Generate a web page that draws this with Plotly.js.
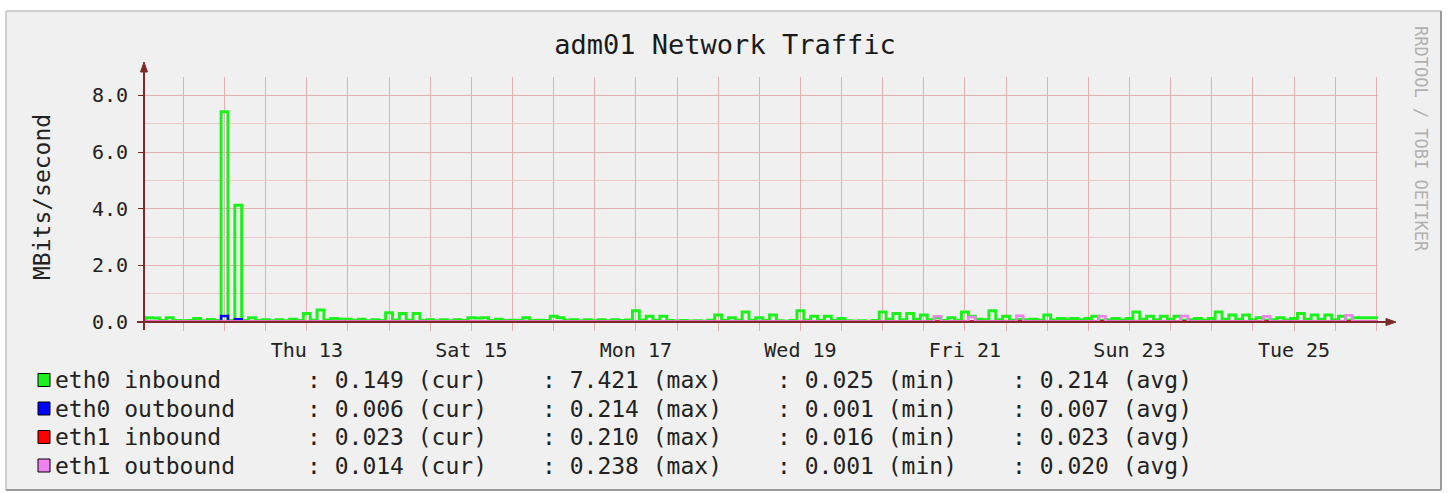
<!DOCTYPE html>
<html>
<head>
<meta charset="utf-8">
<script src="https://cdn.plot.ly/plotly-3.0.1.min.js"></script>
<style>
html,body{margin:0;padding:0;background:#ffffff;}
#chart{width:1450px;height:493px;}
</style>
</head>
<body>
<div id="chart"></div>
<script>
// ---------------- data ----------------
const chartTitle = 'adm01 Network Traffic';
const yAxisTitle = 'MBits/second';
const watermark = 'RRDTOOL / TOBI OETIKER';

const yTickVals = [0, 2, 4, 6, 8];
const yTickText = ['0.0', '2.0', '4.0', '6.0', '8.0'];
const xTickVals = ['2011-01-13 12:00', '2011-01-15 12:00', '2011-01-17 12:00', '2011-01-19 12:00',
                   '2011-01-21 12:00', '2011-01-23 12:00', '2011-01-25 12:00'];
const xTickText = ['Thu 13', 'Sat 15', 'Mon 17', 'Wed 19', 'Fri 21', 'Sun 23', 'Tue 25'];
const xRange = ['2011-01-11 12:30', '2011-01-26 12:30'];

// eth0 inbound: 2-hour consolidated steps starting at stepStart (MBits/s)
const stepStart = '2011-01-11 11:00';
const stepHours = 2;
const eth0In = [
  0.06,0.15,0.14,0.05,0.15,0.05,0.04,0.05,0.12,0.04,0.09,0.05,
  7.42,0.05,4.12,0.05,0.15,0.05,0.08,0.04,0.08,0.04,0.10,0.05,
  0.30,0.06,0.42,0.07,0.12,0.10,0.10,0.05,0.10,0.04,0.08,0.05,
  0.33,0.06,0.30,0.06,0.30,0.05,0.08,0.04,0.08,0.04,0.08,0.05,
  0.15,0.14,0.15,0.05,0.10,0.05,0.06,0.05,0.15,0.05,0.06,0.05,
  0.20,0.15,0.06,0.08,0.04,0.08,0.04,0.08,0.04,0.08,0.05,0.07,
  0.40,0.07,0.20,0.06,0.20,0.05,0.03,0.05,0.03,0.04,0.03,0.06,
  0.25,0.06,0.15,0.06,0.35,0.06,0.15,0.05,0.25,0.04,0.03,0.05,
  0.40,0.06,0.20,0.06,0.20,0.06,0.12,0.04,0.03,0.04,0.025,0.05,
  0.35,0.10,0.30,0.08,0.30,0.10,0.25,0.08,0.15,0.05,0.15,0.06,
  0.35,0.20,0.10,0.08,0.40,0.08,0.20,0.06,0.10,0.08,0.10,0.06,
  0.25,0.07,0.12,0.10,0.12,0.08,0.12,0.20,0.06,0.08,0.12,0.07,
  0.12,0.35,0.10,0.20,0.08,0.20,0.10,0.20,0.06,0.08,0.12,0.07,
  0.12,0.35,0.10,0.25,0.10,0.25,0.08,0.15,0.06,0.08,0.15,0.07,
  0.12,0.30,0.10,0.25,0.10,0.25,0.08,0.20,0.06,0.15,0.15,0.15,
  0.149
];

// near-flat series, given at the times where their level changes
const eth0OutTimes = ['2011-01-11 11:00','2011-01-12 11:00','2011-01-12 13:00','2011-01-12 15:00','2011-01-12 17:00','2011-01-26 13:00'];
const eth0OutVals  = [0.006, 0.214, 0.010, 0.100, 0.006, 0.006];

const eth1InTimes = ['2011-01-11 11:00','2011-01-26 13:00'];
const eth1InVals  = [0.023, 0.023];

const eth1OutTimes = ['2011-01-11 11:00',
  '2011-01-21 03:00','2011-01-21 05:00','2011-01-21 13:00','2011-01-21 15:00',
  '2011-01-22 03:00','2011-01-22 05:00','2011-01-23 03:00','2011-01-23 05:00',
  '2011-01-24 03:00','2011-01-24 05:00','2011-01-25 03:00','2011-01-25 05:00',
  '2011-01-26 03:00','2011-01-26 05:00','2011-01-26 13:00'];
const eth1OutVals = [0.014,
  0.20,0.014,0.18,0.014,
  0.22,0.014,0.20,0.014,
  0.21,0.014,0.20,0.014,
  0.238,0.014,0.014];

const seriesNames  = ['eth0 inbound', 'eth0 outbound', 'eth1 inbound', 'eth1 outbound'];
const seriesColors = ['#1ef01e', '#0000ff', '#ff0000', '#ee82ee'];
const statCur = ['0.149', '0.006', '0.023', '0.014'];
const statMax = ['7.421', '0.214', '0.210', '0.238'];
const statMin = ['0.025', '0.001', '0.016', '0.001'];
const statAvg = ['0.214', '0.007', '0.023', '0.020'];

// ---------------- helpers ----------------
function toMs(s) {
  const [d, t] = s.split(' ');
  const [Y, M, D] = d.split('-').map(Number);
  const [h, m] = t.split(':').map(Number);
  return Date.UTC(Y, M - 1, D, h, m);
}
function fmt(ms) { return new Date(ms).toISOString().slice(0, 19).replace('T', ' '); }

const t0 = toMs(stepStart);
const stepMs = stepHours * 3600 * 1000;
const eth0InX = [], eth0InY = [];
eth0In.forEach((v, i) => { eth0InX.push(fmt(t0 + i * stepMs)); eth0InY.push(v); });
eth0InX.push(fmt(t0 + eth0In.length * stepMs));
eth0InY.push(eth0In[eth0In.length - 1]);

// pixel -> paper helpers (plot area 144..1378 x 77..322)
const L = 144, R = 1378, T = 77, B = 322;
const px = v => (v - L) / (R - L);
const py = v => (B - v) / (B - T);

const AXIS = '#7b2a2a';
const GRID = '#e2b0b0';
const GRIDMINOR = '#edcaca';
const FONT = 'DejaVu Sans Mono';

const mk = (x, y, name, color, w) => ({
  type: 'scatter', mode: 'lines', x: x, y: y, name: name,
  line: {color: color, width: w, shape: 'hv'}, hoverinfo: 'skip'
});

const traces = [
  mk(eth0InX, eth0InY, seriesNames[0], seriesColors[0], 3),
  mk(eth0OutTimes, eth0OutVals, seriesNames[1], seriesColors[1], 2.5),
  mk(eth1InTimes, eth1InVals, seriesNames[2], seriesColors[2], 2),
  mk(eth1OutTimes, eth1OutVals, seriesNames[3], seriesColors[3], 2.5)
];

const shapes = [
  // frame background
  {type: 'rect', xref: 'paper', yref: 'paper', layer: 'below', x0: px(6), x1: px(1441), y0: py(490), y1: py(11),
   fillcolor: '#f0f0f0', line: {width: 0}},
  {type: 'line', xref: 'paper', yref: 'paper', layer: 'below', x0: px(6), x1: px(1441), y0: py(11), y1: py(11), line: {color: '#cfcfcf', width: 2}},
  {type: 'line', xref: 'paper', yref: 'paper', layer: 'below', x0: px(6), x1: px(6), y0: py(11), y1: py(490), line: {color: '#cfcfcf', width: 2}},
  {type: 'line', xref: 'paper', yref: 'paper', layer: 'below', x0: px(1441), x1: px(1441), y0: py(11), y1: py(490), line: {color: '#9a9a9a', width: 2}},
  {type: 'line', xref: 'paper', yref: 'paper', layer: 'below', x0: px(6), x1: px(1441), y0: py(490), y1: py(490), line: {color: '#9a9a9a', width: 2}},
  // axes
  {type: 'line', xref: 'paper', yref: 'paper', layer: 'above', x0: px(144), x1: px(144), y0: py(330), y1: py(70), line: {color: AXIS, width: 2}},
  {type: 'line', xref: 'paper', yref: 'paper', layer: 'above', x0: px(137), x1: px(1388), y0: py(322), y1: py(322), line: {color: AXIS, width: 2}},
  {type: 'path', xref: 'paper', yref: 'paper', layer: 'above',
   path: `M ${px(140.5)},${py(72)} L ${px(144)},${py(62)} L ${px(147.5)},${py(72)} Z`, fillcolor: AXIS, line: {color: AXIS, width: 1}},
  {type: 'path', xref: 'paper', yref: 'paper', layer: 'above',
   path: `M ${px(1386)},${py(318.5)} L ${px(1396)},${py(322)} L ${px(1386)},${py(325.5)} Z`, fillcolor: AXIS, line: {color: AXIS, width: 1}}
];

const rowY = [380, 408.5, 437, 465.5];
const annotations = [
  {xref: 'paper', yref: 'paper', x: px(42), y: py(197), text: yAxisTitle, textangle: -90, showarrow: false,
   xanchor: 'center', yanchor: 'middle', font: {family: FONT, size: 23, color: '#222'}},
  {xref: 'paper', yref: 'paper', x: px(1421), y: py(139), text: watermark, textangle: 90, showarrow: false,
   xanchor: 'center', yanchor: 'middle', font: {family: FONT, size: 17, color: '#b0b0b0'}}
];
const colX = [305, 540, 775, 1010];
seriesNames.forEach((n, r) => {
  const y = py(rowY[r]);
  shapes.push({type: 'rect', xref: 'paper', yref: 'paper', layer: 'above',
    x0: px(38), x1: px(50), y0: py(rowY[r] + 6.5), y1: py(rowY[r] - 6.5),
    fillcolor: seriesColors[r], line: {color: '#000000', width: 1}});
  const cells = [n, ': ' + statCur[r] + ' (cur)', ': ' + statMax[r] + ' (max)', ': ' + statMin[r] + ' (min)', ': ' + statAvg[r] + ' (avg)'];
  const xs = [53].concat(colX);
  cells.forEach((c, k) => annotations.push({xref: 'paper', yref: 'paper', x: px(xs[k]), y: y, text: c, showarrow: false,
    xanchor: 'left', yanchor: 'middle', font: {family: FONT, size: 23, color: '#222'}}));
});

const layout = {
  width: 1450, height: 493,
  margin: {l: 144, r: 72, t: 77, b: 171, pad: 0},
  paper_bgcolor: '#ffffff', plot_bgcolor: '#ffffff',
  showlegend: false,
  font: {family: FONT, color: '#222'},
  title: {text: chartTitle, x: 0.5, xref: 'container', xanchor: 'center',
          y: 1 - 45 / 493, yref: 'container', yanchor: 'middle',
          font: {family: FONT, size: 27, color: '#1a1a1a'}},
  xaxis: {type: 'date', range: xRange, tickvals: xTickVals, ticktext: xTickText,
          showgrid: true, gridcolor: GRID, gridwidth: 1, zeroline: false, showline: false,
          ticks: 'outside', ticklen: 8, tickcolor: GRID, tickfont: {family: FONT, size: 20, color: '#222'},
          ticklabelstandoff: 2, fixedrange: true,
          minor: {dtick: 12 * 3600 * 1000, tick0: '2011-01-11 00:00', showgrid: true, gridcolor: GRID,
                  ticks: 'outside', ticklen: 8, tickcolor: GRID}},
  yaxis: {range: [0, 8.65], tickvals: yTickVals, ticktext: yTickText,
          showgrid: true, gridcolor: GRID, zeroline: false, showline: false,
          ticks: 'outside', ticklen: 5, tickcolor: AXIS, tickfont: {family: FONT, size: 20, color: '#222'},
          ticklabelstandoff: 6, fixedrange: true,
          minor: {dtick: 1, showgrid: true, gridcolor: GRIDMINOR}},
  shapes: shapes,
  annotations: annotations
};

Plotly.newPlot('chart', traces, layout, {displayModeBar: false, staticPlot: true});
</script>
</body>
</html>
